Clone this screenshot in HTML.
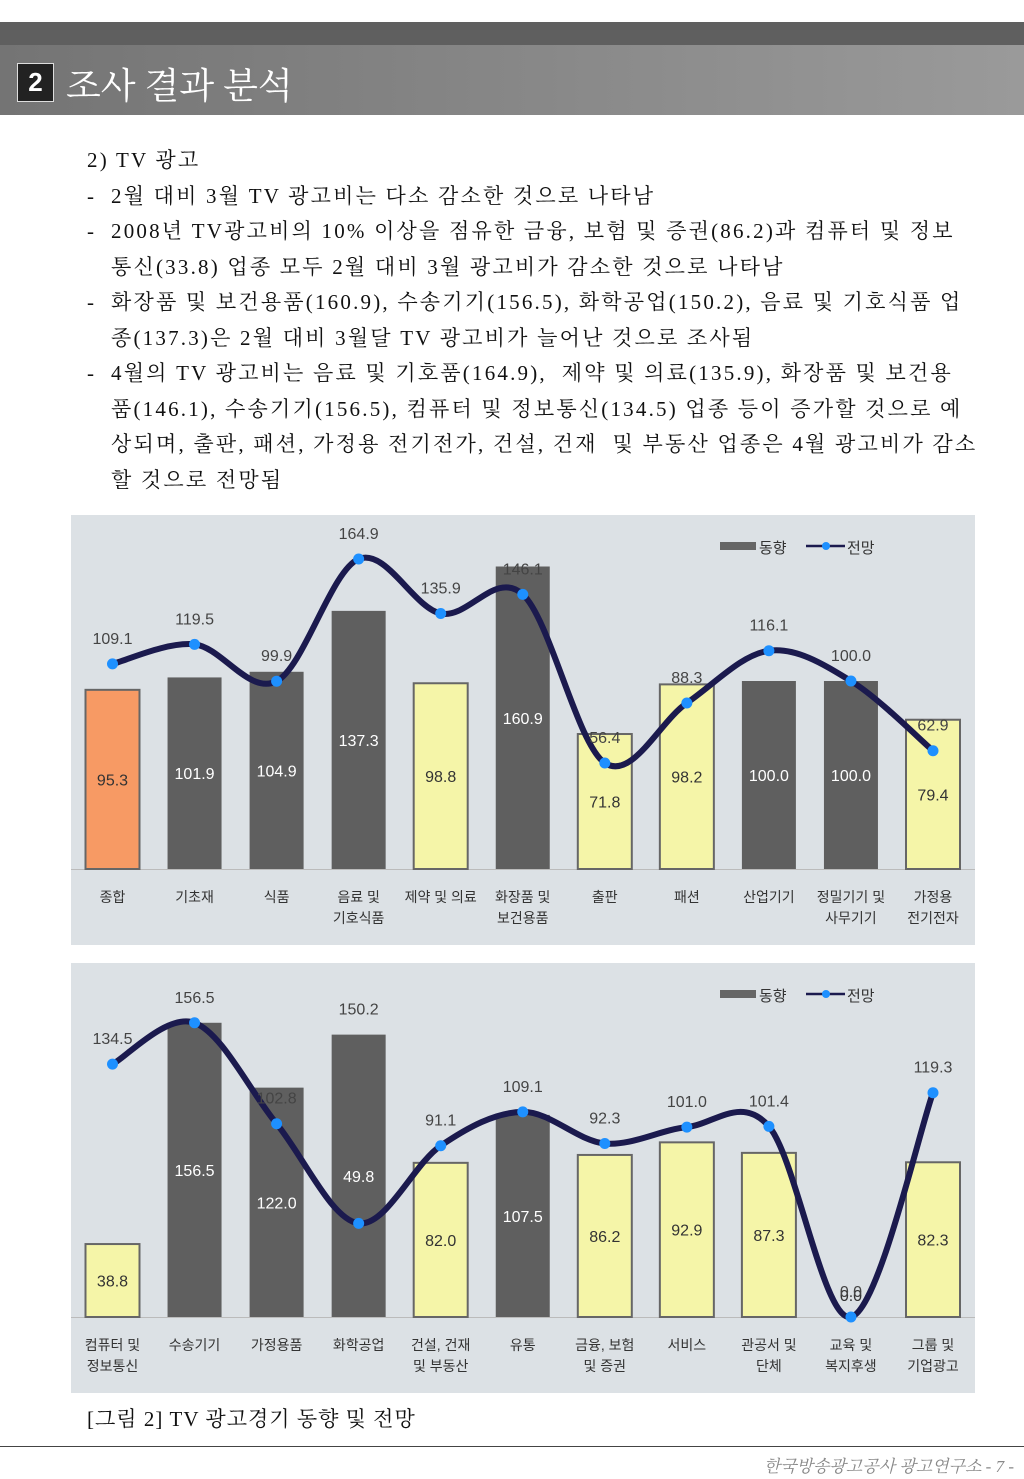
<!DOCTYPE html>
<html><head><meta charset="utf-8">
<style>
body{margin:0;width:1024px;height:1479px;background:#fff;position:relative;overflow:hidden;font-family:"Liberation Serif","Noto Serif CJK SC",serif;}
.hdr1{position:absolute;left:0;top:22px;width:1024px;height:23px;background:#5f5f5f;}
.hdr2{position:absolute;left:0;top:45px;width:1024px;height:70px;background:linear-gradient(90deg,#747474,#9a9a9a);}
.num{position:absolute;left:17px;top:63px;width:35px;height:37px;background:#222;border:1px solid #ddd;color:#fff;font:bold 26px "Liberation Sans",sans-serif;text-align:center;line-height:37px;}
.ttl{position:absolute;left:66px;top:58px;color:#fff;font-size:36px;font-family:"Liberation Serif","Noto Serif CJK SC",serif;}
.txt{position:absolute;left:87px;top:143px;width:920px;font-size:21px;line-height:35.5px;color:#111;letter-spacing:2.2px;white-space:nowrap;}
.txt div{padding-left:24px;}
.txt .d{margin-left:-24px;display:inline-block;width:24px;}
.cap{position:absolute;left:87px;top:1403px;font-size:21px;color:#111;letter-spacing:1px;}
.foot{position:absolute;left:0;top:1446px;width:1024px;border-top:1px solid #444;}
.ftxt{position:absolute;right:10px;top:1452px;font-style:italic;color:#888;font-size:17px;}
svg text{font-family:"Liberation Sans","Noto Sans CJK KR",sans-serif;}
</style></head><body>
<div class="hdr1"></div>
<div class="hdr2"></div>
<div class="num">2</div>
<div class="ttl">조사 결과 분석</div>
<div class="txt">
<div style="padding-left:0">2) TV 광고</div>
<div><span class="d">-</span>2월 대비 3월 TV 광고비는 다소 감소한 것으로 나타남</div>
<div><span class="d">-</span>2008년 TV광고비의 10% 이상을 점유한 금융, 보험 및 증권(86.2)과 컴퓨터 및 정보<br>통신(33.8) 업종 모두 2월 대비 3월 광고비가 감소한 것으로 나타남</div>
<div><span class="d">-</span>화장품 및 보건용품(160.9), 수송기기(156.5), 화학공업(150.2), 음료 및 기호식품 업<br>종(137.3)은 2월 대비 3월달 TV 광고비가 늘어난 것으로 조사됨</div>
<div><span class="d">-</span>4월의 TV 광고비는 음료 및 기호품(164.9), &nbsp;제약 및 의료(135.9), 화장품 및 보건용<br>품(146.1), 수송기기(156.5), 컴퓨터 및 정보통신(134.5) 업종 등이 증가할 것으로 예<br>상되며, 출판, 패션, 가정용 전기전가, 건설, 건재 &nbsp;및 부동산 업종은 4월 광고비가 감소<br>할 것으로 전망됨</div>
</div>
<svg id="c1" style="position:absolute;left:0;top:0" width="1024" height="1479"></svg>
<div class="cap">[그림 2] TV 광고경기 동향 및 전망</div>
<div class="foot"></div>
<div class="ftxt">한국방송광고공사 광고연구소 - 7 -</div>
<script>
const cats1=["종합","기초재","식품","음료 및|기호식품","제약 및 의료","화장품 및|보건용품","출판","패션","산업기기","정밀기기 및|사무기기","가정용|전기전자"];
const trend1=[95.3,101.9,104.9,137.3,98.8,160.9,71.8,98.2,100.0,100.0,79.4];
const trendText1=["95.3","101.9","104.9","137.3","98.8","160.9","71.8","98.2","100.0","100.0","79.4"];
const outlook1=[109.1,119.5,99.9,164.9,135.9,146.1,56.4,88.3,116.1,100.0,62.9];
const outlookText1=["109.1","119.5","99.9","164.9","135.9","146.1","56.4","88.3","116.1","100.0","62.9"];
const labelAt1=[109.1,119.5,99.9,164.9,135.9,146.1,56.4,88.3,116.1,100.0,62.9];
const colors1=["o","d","d","d","y","d","y","y","d","d","y"];
const cats2=["컴퓨터 및|정보통신","수송기기","가정용품","화학공업","건설, 건재|및 부동산","유통","금융, 보험|및 증권","서비스","관공서 및|단체","교육 및|복지후생","그룹 및|기업광고"];
const trend2=[38.8,156.5,122.0,150.2,82.0,107.5,86.2,92.9,87.3,0,82.3];
const trendText2=["38.8","156.5","122.0","49.8","82.0","107.5","86.2","92.9","87.3","0.0","82.3"];
const outlook2=[134.5,156.5,102.8,49.8,91.1,109.1,92.3,101.0,101.4,0.0,119.3];
const outlookText2=["134.5","156.5","102.8","150.2","91.1","109.1","92.3","101.0","101.4","0.0","119.3"];
const labelAt2=[134.5,156.5,102.8,150.2,91.1,109.1,92.3,101.0,101.4,0.0,119.3];
const colors2=["y","d","d","d","y","d","y","y","y","n","y"];

const svg=document.getElementById('c1');
const NS="http://www.w3.org/2000/svg";
function mk(tag,attrs,parent){const e=document.createElementNS(NS,tag);for(const k in attrs)e.setAttribute(k,attrs[k]);(parent||svg).appendChild(e);return e;}
function drawChart(top,cats,trend,ttext,outlook,otext,labelAt,colors,idx){
  const g=mk('g',{});
  
  
  const panel=mk('rect',{x:71,y:top,width:904,height:430,fill:'#dce1e5'},g);
  
  
  const base=top+354;
  const xs=i=>112.5+i*82.05;
  const ys=v=>base-v*1.88;
  mk('line',{x1:71,x2:975,y1:base+0.5,y2:base+0.5,stroke:'#bbb'},g);
  const fill={d:'#5f5f5f',y:'#f5f5a8',o:'#f79a64'};
  trend.forEach((v,i)=>{
    if(colors[i]!=='n'){
      const r=mk('rect',{x:xs(i)-27,y:ys(v),width:54,height:base-ys(v),fill:fill[colors[i]],stroke:colors[i]==='d'?'none':'#666','stroke-width':2},g);
      
      
    }
    const t=mk('text',{x:xs(i),y:(ys(v)+base)/2+6,'text-anchor':'middle','font-size':16,fill:colors[i]==='d'?'#fff':'#333'},g);
    if(colors[i]==='n'){t.setAttribute('y',base-16);t.setAttribute('fill','#333');}
    t.textContent=ttext[i];
    
    
  });
  const p=outlook.map((v,i)=>[xs(i),ys(v)]);
  let d='M'+p[0][0]+','+p[0][1];
  for(let i=0;i<p.length-1;i++){
    const p0=p[i-1]||p[i],p1=p[i],p2=p[i+1],p3=p[i+2]||p2;
    d+=` C${p1[0]+(p2[0]-p0[0])/6},${p1[1]+(p2[1]-p0[1])/6} ${p2[0]-(p3[0]-p1[0])/6},${p2[1]-(p3[1]-p1[1])/6} ${p2[0]},${p2[1]}`;
  }
  const ln=mk('path',{d:d,fill:'none',stroke:'#1b1a4e','stroke-width':6,'stroke-linecap':'round'},g);
  
  
  outlook.forEach((v,i)=>{
    const c=mk('circle',{cx:xs(i),cy:ys(v),r:5.5,fill:'#1e90ff'},g);
    
    
    const t=mk('text',{x:xs(i),y:ys(labelAt[i])-20,'text-anchor':'middle','font-size':16,fill:'#444'},g);
    t.textContent=otext[i];
    
    
  });
  cats.forEach((c,i)=>{
    c.split('|').forEach((s,j)=>{
      const t=mk('text',{x:xs(i),y:base+33+j*21,'text-anchor':'middle','font-size':14,fill:'#333'},g);
      t.textContent=s;
      
      
    });
  });
  const lg=mk('g',{},g);
  
  
  mk('rect',{x:720,y:top+27,width:36,height:8,fill:'#666'},lg);
  const t1=mk('text',{x:759,y:top+38,'font-size':15,fill:'#333'},lg);t1.textContent='동향';
  mk('line',{x1:806,x2:845,y1:top+31,y2:top+31,stroke:'#1b1a4e','stroke-width':2.5},lg);
  mk('circle',{cx:826,cy:top+31,r:4,fill:'#1e90ff'},lg);
  const t2=mk('text',{x:847,y:top+38,'font-size':15,fill:'#333'},lg);t2.textContent='전망';
}
drawChart(515,cats1,trend1,trendText1,outlook1,outlookText1,labelAt1,colors1,1);
drawChart(963,cats2,trend2,trendText2,outlook2,outlookText2,labelAt2,colors2,2);
</script>
</body></html>
